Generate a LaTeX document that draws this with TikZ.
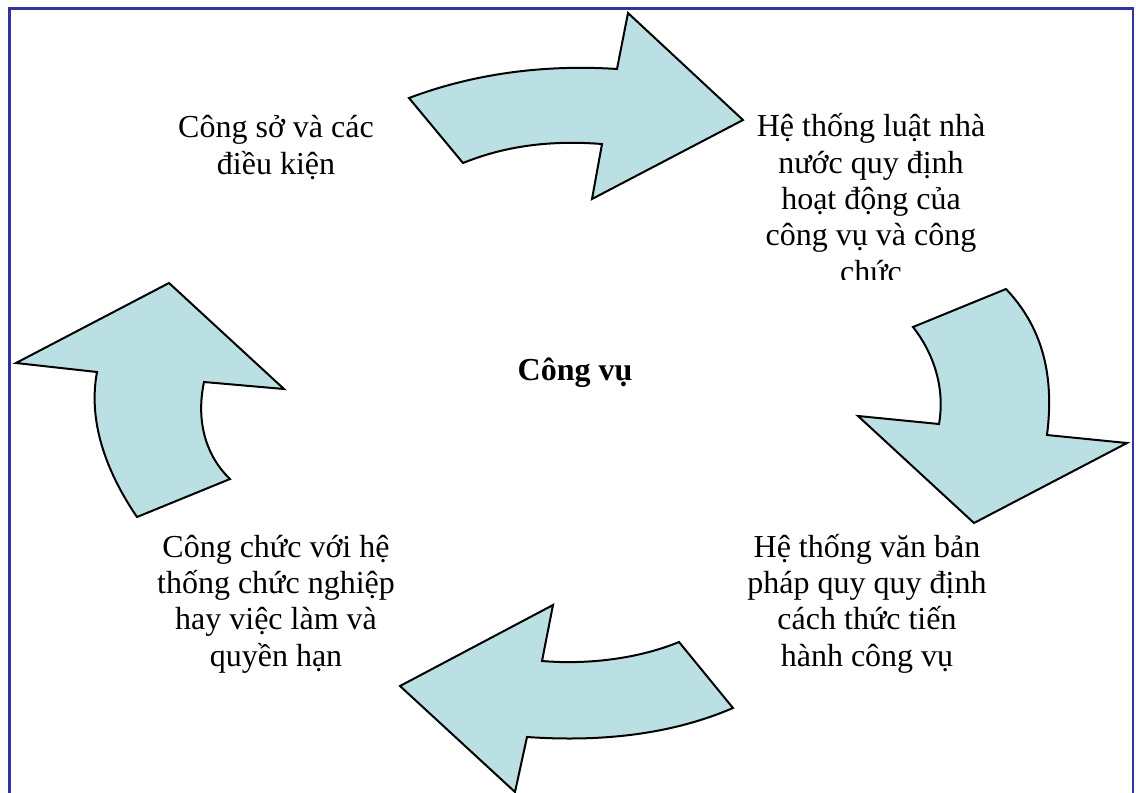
\documentclass[tikz,border=0pt]{standalone}
\usepackage{fontspec}
\setmainfont{Liberation Serif}
\definecolor{arrowfill}{RGB}{187,224,227}
\definecolor{framecol}{RGB}{51,51,160}
\begin{document}
\begin{tikzpicture}[x=1pt,y=-1pt,
  flow/.style={fill=arrowfill, draw=black, line width=2pt, line join=miter},
  steptext/.style={align=center, inner sep=0pt, font=\fontsize{32}{36.3}\selectfont, anchor=base}]
\useasboundingbox (0,0) rectangle (1136,793);
\begin{scope}
  \clip (0,0) rectangle (1136,793);
  % page frame
  \draw[framecol, line width=2.5pt] (9.5,8.5) rectangle (1133,820);

  % curved arrows of the cycle
  \draw[flow] (409,98) .. controls (470,75) and (540,64) .. (617,69) -- (628,13) -- (743,120)
    -- (592,199) -- (602,144) .. controls (550,140) and (505,146) .. (463,163) -- cycle;
  \draw[flow] (1006,289) -- (913,327) .. controls (935,355) and (945,390) .. (939,424)
    -- (858,416) -- (974,523) -- (1127,443) -- (1047,435)
    .. controls (1054,380) and (1045,330) .. (1006,289) -- cycle;
  \draw[flow] (679,642) -- (733,708) .. controls (670,735) and (600,742) .. (527,737)
    -- (515,792) -- (400,686) -- (553,605) -- (542,661)
    .. controls (590,665) and (640,658) .. (679,642) -- cycle;
  \draw[flow] (169,283) -- (284,389) -- (204,382) .. controls (196,420) and (205,455) .. (230,479)
    -- (137,517) .. controls (105,470) and (88,420) .. (97,372) -- (16,363) -- cycle;
\end{scope}

% labels (anchored at the baseline of their last line)
\node[steptext] (conditions) at (276,174) {Công sở và các\\điều kiện};
\begin{scope}
  % the last line of this text box is cut off by its frame
  \clip (700,0) rectangle (1050,279);
  \node[steptext] (law) at (871,282) {Hệ thống luật nhà\\nước quy định\\hoạt động của\\công vụ và công\\chức};
\end{scope}
\node[steptext, font=\fontsize{32}{36}\selectfont\bfseries] (core) at (575,380) {Công vụ};
\node[steptext] (documents) at (867,666) {Hệ thống văn bản\\pháp quy quy định\\cách thức tiến\\hành công vụ};
\node[steptext] (officials) at (276,666) {Công chức với hệ\\thống chức nghiệp\\hay việc làm và\\quyền hạn};
\end{tikzpicture}
\end{document}
